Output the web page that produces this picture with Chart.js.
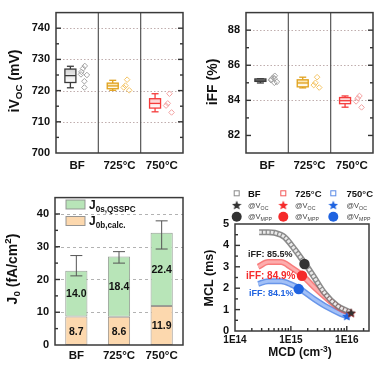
<!DOCTYPE html>
<html><head><meta charset="utf-8">
<script src="https://cdn.jsdelivr.net/npm/chart.js@4.4.0/dist/chart.umd.min.js"></script>
<style>
html,body{margin:0;padding:0;background:#fff;}
#wrap{position:relative;width:392px;height:370px;overflow:hidden;}
canvas{position:absolute;}
</style></head><body>
<div id="wrap">
<canvas id="c1" width="196" height="185" style="left:0;top:0"></canvas>
<canvas id="c2" width="196" height="185" style="left:196px;top:0"></canvas>
<canvas id="c3" width="196" height="185" style="left:0;top:185px"></canvas>
<canvas id="c4" width="196" height="185" style="left:196px;top:185px"></canvas>
</div>
<script>
// ---------------- DATA ----------------
const categories = ['BF', '725°C', '750°C'];

// iVoc (mV)
const ivocPoints = [[727.9, 727.1, 726.0, 725.0, 725.2, 723.0, 721.0], [723.5, 721.6, 721.0, 720.1], [719.0, 715.9, 715.2, 713.0]];
const ivocMin = [720.9, 720.1, 713.2];
const ivocQ1  = [722.6, 720.6, 714.4];
const ivocMed = [724.8, 721.5, 715.9];
const ivocQ3  = [726.9, 722.4, 717.4];
const ivocMax = [727.8, 723.3, 719.0];
const ivocTicks = [700, 710, 720, 730, 740];

// iFF (%)
const iffPoints = [[85.4, 85.3, 85.2, 85.05, 85.15, 85.0, 85.25], [85.32, 85.0, 84.87, 84.73], [84.25, 84.12, 83.94, 83.6]];
const iffMin = [84.99, 84.71, 83.61];
const iffQ1  = [85.08, 84.77, 83.81];
const iffMed = [85.15, 84.99, 83.98];
const iffQ3  = [85.22, 85.17, 84.16];
const iffMax = [85.23, 85.32, 84.25];
const iffTicks = [82, 84, 86, 88];

// J0 (fA/cm2)
const j0Bulk = [8.7, 8.6, 11.9];
const j0Surf = [14.0, 18.4, 22.4];
const j0ErrLow = [21.1, 25.0, 29.3];
const j0ErrHigh = [27.3, 28.5, 37.9];
const j0Ticks = [0, 10, 20, 30, 40];

// MCL (ms) vs MCD (cm-3)
const mcdBF  = [2.7e14, 3.9e14, 5.1e14, 7.7e14, 1.15e15, 1.8e15, 2.5e15, 3.9e15, 6.7e15, 1.15e16];
const mclBF  = [4.62, 4.62, 4.59, 4.39, 3.84, 3.14, 2.59, 1.81, 1.19, 0.88];
const mcd725 = [2.6e14, 3.9e14, 6.7e14, 1.0e15, 1.6e15, 2.6e15, 4.5e15, 7.8e15, 1.15e16];
const mcl725 = [3.0, 3.22, 3.22, 2.98, 2.6, 2.05, 1.5, 1.03, 0.84];
const mcd750 = [2.6e14, 3.9e14, 6.7e14, 1.0e15, 1.45e15, 2.6e15, 4.5e15, 7.8e15, 1.15e16];
const mcl750 = [2.2, 2.33, 2.32, 2.18, 1.97, 1.5, 1.11, 0.8, 0.64];
const vocMCD = [1.2e16, 1.2e16, 1.0e16];
const vocMCL = [0.86, 0.84, 0.7];
const mppMCD = [1.75e15, 1.58e15, 1.38e15];
const mppMCL = [3.13, 2.58, 1.96];
const iffLabels = ['iFF: 85.5%', 'iFF: 84.9%', 'iFF: 84.1%'];
const mcdTicks = [1e14, 1e15, 1e16];
const mclTicks = [0, 1, 2, 3, 4, 5];

// ---------------- STYLE ----------------
const FAM = "'Liberation Sans', Arial, Helvetica, sans-serif";
Chart.defaults.font.family = FAM;
Chart.defaults.color = '#111';
Chart.defaults.animation = false;
Chart.defaults.plugins.legend.display = false;
Chart.defaults.plugins.tooltip.enabled = false;

const boxStroke = ['#3a3a3a', '#e0a11c', '#f53b3b'];
const boxFill = ['#d4d4d4', '#fbe2a4', '#fcc7c7'];
const ptColor = ['#a3a3a3', '#f4c465', '#f3a0a0'];
const BOX_OFF = -0.16, PT_OFF = 0.17;
const JITTER = [0.01, -0.03, -0.07, 0.06, -0.08, 0, 0];
const seriesColor = ['#333333', '#f52a2a', '#1f63e0'];

function rich(ctx, parts, x, y, o) {
  ctx.save();
  ctx.translate(x, y);
  if (o.rot) ctx.rotate(-Math.PI / 2);
  const font = s => `${o.weight || 'bold'} ${s}px ${FAM}`;
  let w = 0;
  const ms = parts.map(p => { ctx.font = font(o.size * (p[1] || 1)); const m = ctx.measureText(p[0]).width; w += m; return m; });
  let cx = o.align === 'left' ? 0 : o.align === 'right' ? -w : -w / 2;
  ctx.fillStyle = o.color || '#111';
  ctx.textBaseline = 'alphabetic'; ctx.textAlign = 'left';
  const base = o.size * 0.36;
  parts.forEach((p, i) => { ctx.font = font(o.size * (p[1] || 1)); ctx.fillText(p[0], cx, base + o.size * (p[2] || 0)); cx += ms[i]; });
  ctx.restore();
}

function hline(ctx, x1, x2, y) { ctx.beginPath(); ctx.moveTo(x1, y); ctx.lineTo(x2, y); ctx.stroke(); }
function vline(ctx, x, y1, y2) { ctx.beginPath(); ctx.moveTo(x, y1); ctx.lineTo(x, y2); ctx.stroke(); }

function framePlugin(o) {
  return {
    id: 'frame',
    beforeDatasetsDraw(chart) {
      const { ctx, chartArea: a, scales: { x, y } } = chart;
      ctx.save();
      if (o.grid) {
        ctx.strokeStyle = o.gridColor; ctx.lineWidth = 1; ctx.setLineDash(o.gridDash);
        o.grid.forEach(v => hline(ctx, a.left, a.right, Math.round(y.getPixelForValue(v)) + 0.5));
        ctx.setLineDash([]);
      }
      if (o.dividers) {
        ctx.strokeStyle = '#555'; ctx.lineWidth = 1.2;
        o.dividers.forEach(v => vline(ctx, x.getPixelForValue(v), a.top, a.bottom));
      }
      if (o.before) o.before(chart);
      ctx.restore();
    },
    afterDatasetsDraw(chart) {
      const { ctx, chartArea: a, scales: { x, y } } = chart;
      ctx.save();
      if (o.after) o.after(chart);
      ctx.strokeStyle = '#333'; ctx.lineWidth = 1.4;
      const tk = (arr, len) => arr.forEach(v => {
        const py = y.getPixelForValue(v);
        if (py < a.top + 1 || py > a.bottom - 1) return;
        hline(ctx, a.left, a.left + len, py);
        if (o.rightTicks) hline(ctx, a.right - len, a.right, py);
      });
      tk(o.yMajor, 5); tk(o.yMinor, 3);
      if (o.xMajor) {
        o.xMajor.forEach(v => { const px = x.getPixelForValue(v); if (px > a.left + 1 && px < a.right - 1) vline(ctx, px, a.bottom, a.bottom - 5); });
        o.xMinor.forEach(v => { const px = x.getPixelForValue(v); if (px > a.left + 1 && px < a.right - 1) vline(ctx, px, a.bottom, a.bottom - 3); });
      }
      ctx.strokeStyle = '#3a3a3a'; ctx.lineWidth = 1.5;
      ctx.strokeRect(a.left, a.top, a.right - a.left, a.bottom - a.top);
      if (o.titles) o.titles(ctx, chart);
      ctx.restore();
    }
  };
}

function midTicks(t) { const r = []; for (let i = 0; i < t.length; i++) { r.push(t[i] + (t[1] - t[0]) / 2); } return r; }

function drawBoxes(chart, mn, q1, md, q3, mx) {
  const { ctx, scales: { x, y } } = chart;
  mn.forEach((_, i) => {
    const cx = x.getPixelForValue(i + BOX_OFF);
    const hw = 5.5, cw = 3.5;
    const pMin = y.getPixelForValue(mn[i]), pQ1 = y.getPixelForValue(q1[i]);
    const pMed = y.getPixelForValue(md[i]), pQ3 = y.getPixelForValue(q3[i]), pMax = y.getPixelForValue(mx[i]);
    ctx.strokeStyle = boxStroke[i]; ctx.lineWidth = 1.3;
    vline(ctx, cx, pMax, pQ3); vline(ctx, cx, pQ1, pMin);
    hline(ctx, cx - cw, cx + cw, pMax); hline(ctx, cx - cw, cx + cw, pMin);
    const g = ctx.createLinearGradient(0, pQ3, 0, pQ1);
    g.addColorStop(0, boxFill[i]); g.addColorStop(1, '#ffffff');
    ctx.fillStyle = g;
    ctx.fillRect(cx - hw, pQ3, 2 * hw, pQ1 - pQ3);
    ctx.strokeRect(cx - hw, pQ3, 2 * hw, pQ1 - pQ3);
    hline(ctx, cx - hw, cx + hw, pMed);
  });
}

function boxChart(id, pts, stats, yr, ticks, area, title) {
  const datasets = pts.map((g, i) => ({
    data: g.map((v, j) => ({ x: i + PT_OFF + JITTER[j % JITTER.length], y: v })),
    pointStyle: 'rectRot', pointRadius: 2.8, borderWidth: 1,
    borderColor: ptColor[i], backgroundColor: 'rgba(255,255,255,0)'
  }));
  return new Chart(document.getElementById(id), {
    type: 'scatter',
    data: { datasets },
    options: {
      responsive: false,
      layout: { padding: { left: 0, top: area.t, right: 196 - area.r, bottom: 0 } },
      scales: {
        x: {
          type: 'linear', min: -0.5, max: 2.5,
          afterBuildTicks: s => { s.ticks = categories.map((c, i) => ({ value: i })); },
          ticks: { callback: v => categories[v], font: { size: 11.5, weight: 'bold' }, color: '#111', padding: 6, autoSkip: false, maxRotation: 0 },
          grid: { display: false, drawTicks: false }, border: { display: false },
          afterFit: s => { s.height = 185 - area.b; }
        },
        y: {
          min: yr[0], max: yr[1],
          afterBuildTicks: s => { s.ticks = ticks.map(v => ({ value: v })); },
          ticks: { font: { size: 11, weight: 'bold' }, color: '#111', padding: 6 },
          grid: { display: false, drawTicks: false }, border: { display: false },
          afterFit: s => { s.width = area.l; }
        }
      }
    },
    plugins: [framePlugin({
      grid: ticks.slice(1), gridColor: 'rgba(185,165,165,0.9)', gridDash: [1.5, 2],
      dividers: [0.5, 1.5], rightTicks: true,
      yMajor: ticks, yMinor: midTicks(ticks),
      before: ch => drawBoxes(ch, ...stats),
      titles: title
    })]
  });
}

boxChart('c1', ivocPoints, [ivocMin, ivocQ1, ivocMed, ivocQ3, ivocMax], [700, 745], ivocTicks,
  { l: 56, t: 9, r: 183, b: 153 },
  ctx => rich(ctx, [['iV'], ['OC', 0.7, 0.22], [' (mV)']], 13.5, 81, { size: 14, rot: true }));

boxChart('c2', iffPoints, [iffMin, iffQ1, iffMed, iffQ3, iffMax], [81, 89], iffTicks,
  { l: 50, t: 9, r: 177, b: 153 },
  ctx => rich(ctx, [['iFF (%)']], 16, 82, { size: 14, rot: true }));

// ---------------- J0 stacked bars ----------------
new Chart(document.getElementById('c3'), {
  type: 'bar',
  data: {
    labels: categories,
    datasets: [
      { label: 'J0b,calc.', data: j0Bulk, backgroundColor: '#fcd8ae', borderColor: 'rgba(150,140,130,0.9)', borderWidth: 1, borderSkipped: false },
      { label: 'J0s,QSSPC', data: j0Surf, backgroundColor: '#b8e5b8', borderColor: 'rgba(140,150,140,0.9)', borderWidth: 1, borderSkipped: false }
    ]
  },
  options: {
    responsive: false,
    datasets: { bar: { categoryPercentage: 1, barPercentage: 0.52 } },
    layout: { padding: { left: 0, top: 8, right: 13, bottom: 0 } },
    scales: {
      x: {
        stacked: true,
        ticks: { font: { size: 11.5, weight: 'bold' }, color: '#111', padding: 4, maxRotation: 0 },
        grid: { display: false, drawTicks: false }, border: { display: false },
        afterFit: s => { s.height = 185 - 160; }
      },
      y: {
        stacked: true, min: 0, max: 45,
        afterBuildTicks: s => { s.ticks = j0Ticks.map(v => ({ value: v })); },
        ticks: { font: { size: 11, weight: 'bold' }, color: '#111', padding: 6 },
        grid: { display: false, drawTicks: false }, border: { display: false },
        afterFit: s => { s.width = 55; }
      }
    }
  },
  plugins: [framePlugin({
    grid: j0Ticks.slice(1), gridColor: 'rgba(170,170,170,0.9)', gridDash: [3, 3],
    yMajor: j0Ticks, yMinor: midTicks(j0Ticks),
    after: ch => {
      const { ctx, scales: { x, y } } = ch;
      ctx.strokeStyle = '#555'; ctx.lineWidth = 1;
      categories.forEach((c, i) => {
        const px = x.getPixelForValue(i);
        const yl = y.getPixelForValue(j0ErrLow[i]), yh = y.getPixelForValue(j0ErrHigh[i]);
        vline(ctx, px, yh, yl); hline(ctx, px - 6, px + 6, yh); hline(ctx, px - 6, px + 6, yl);
      });
      [j0Bulk, j0Surf].forEach((arr, d) => {
        ch.getDatasetMeta(d).data.forEach((el, i) => {
          rich(ctx, [[arr[i].toFixed(1)]], el.x, (el.y + el.base) / 2, { size: 10.5 });
        });
      });
      ctx.lineWidth = 1; ctx.strokeStyle = 'rgba(140,140,140,0.9)';
      ctx.fillStyle = '#b8e5b8'; ctx.fillRect(66, 15, 19, 9); ctx.strokeRect(66, 15, 19, 9);
      ctx.fillStyle = '#fcd8ae'; ctx.fillRect(66, 31.5, 19, 9); ctx.strokeRect(66, 31.5, 19, 9);
      rich(ctx, [['J'], ['0s,QSSPC', 0.68, 0.25]], 89, 19.5, { size: 12, align: 'left' });
      rich(ctx, [['J'], ['0b,calc.', 0.68, 0.25]], 89, 36, { size: 12, align: 'left' });
    },
    titles: ctx => rich(ctx, [['J'], ['0', 0.7, 0.22], [' (fA/cm'], ['2', 0.7, -0.4], [')']], 11.5, 84, { size: 14, rot: true })
  })]
});

// ---------------- MCL vs MCD ----------------
function starCanvas(color, size) {
  const c = document.createElement('canvas'); c.width = c.height = size;
  const g = c.getContext('2d'); g.fillStyle = color; g.beginPath();
  const cx = size / 2, cy = size / 2 + 0.5, R = size / 2, r = R * 0.45;
  for (let i = 0; i < 10; i++) { const a = -Math.PI / 2 + i * Math.PI / 5; const rr = i % 2 ? r : R; g.lineTo(cx + rr * Math.cos(a), cy + rr * Math.sin(a)); }
  g.closePath(); g.fill(); return c;
}
const stars = seriesColor.map(c => starCanvas(c, 10));
const curveDefs = [
  { mcd: mcdBF, mcl: mclBF, band: 'rgba(110,110,110,0.8)', inner: 'rgba(240,240,240,0.95)', dash: [2.6, 1.3] },
  { mcd: mcd725, mcl: mcl725, band: 'rgba(245,80,80,0.75)', inner: 'rgba(253,175,175,0.95)', dash: [] },
  { mcd: mcd750, mcl: mcl750, band: 'rgba(55,115,225,0.75)', inner: 'rgba(165,195,248,0.95)', dash: [] }
];
const mclDatasets = [];
seriesColor.forEach((c, i) => {
  mclDatasets.push({ type: 'scatter', data: [{ x: mppMCD[i], y: mppMCL[i] }], pointStyle: 'circle', pointRadius: 5.2, backgroundColor: c, borderColor: c, borderWidth: 0 });
  mclDatasets.push({ type: 'scatter', data: [{ x: vocMCD[i], y: vocMCL[i] }], pointStyle: stars[i], pointRadius: 5 });
});
curveDefs.forEach(d => {
  const data = d.mcd.map((v, i) => ({ x: v, y: d.mcl[i] }));
  mclDatasets.push({ type: 'line', data, borderColor: d.inner, borderWidth: 3, borderDash: d.dash, pointRadius: 0, cubicInterpolationMode: 'monotone', fill: false });
  mclDatasets.push({ type: 'line', data, borderColor: d.band, borderWidth: 6, pointRadius: 0, cubicInterpolationMode: 'monotone', fill: false });
});

const mcdMinor = [];
mcdTicks.forEach(d => { for (let k = 2; k <= 9; k++) mcdMinor.push(k * d); });

new Chart(document.getElementById('c4'), {
  type: 'scatter',
  data: { datasets: mclDatasets },
  options: {
    responsive: false,
    layout: { padding: { left: 0, top: 39, right: 23, bottom: 0 } },
    scales: {
      x: {
        type: 'logarithmic', min: 1e14, max: 2.5e16,
        afterBuildTicks: s => { s.ticks = mcdTicks.map(v => ({ value: v })); },
        ticks: { callback: v => '1E' + Math.round(Math.log10(v)), font: { size: 10, weight: 'bold' }, color: '#111', padding: 3, autoSkip: false, maxRotation: 0 },
        grid: { display: false, drawTicks: false }, border: { display: false },
        afterFit: s => { s.height = 185 - 146; }
      },
      y: {
        min: 0, max: 5,
        afterBuildTicks: s => { s.ticks = mclTicks.map(v => ({ value: v })); },
        ticks: { font: { size: 11, weight: 'bold' }, color: '#111', padding: 6 },
        grid: { display: false, drawTicks: false }, border: { display: false },
        afterFit: s => { s.width = 39; }
      }
    }
  },
  plugins: [framePlugin({
    yMajor: mclTicks, yMinor: midTicks(mclTicks),
    xMajor: mcdTicks, xMinor: mcdMinor,
    titles: (ctx, ch) => {
      rich(ctx, [['MCL (ms)']], 12.5, 93, { size: 12.5, rot: true });
      rich(ctx, [['MCD (cm'], ['-3', 0.7, -0.4], [')']], 104, 167, { size: 12 });
      rich(ctx, [[iffLabels[0]]], 52, 69, { size: 9, align: 'left', color: '#222' });
      rich(ctx, [[iffLabels[1]]], 50, 90, { size: 10, align: 'left', color: seriesColor[1] });
      rich(ctx, [[iffLabels[2]]], 53, 108, { size: 9, align: 'left', color: seriesColor[2] });
      const colX = [40.7, 87.3, 137.3], txtX = [52, 99, 150.5], rowY = [8.3, 20, 31.7];
      const sqCol = ['#8a8a8a', '#f25a5a', '#5a8ae6'];
      categories.forEach((c, i) => {
        ctx.strokeStyle = sqCol[i]; ctx.lineWidth = 1; ctx.strokeRect(colX[i] - 2.5, rowY[0] - 2.5, 5, 5);
        rich(ctx, [[c]], txtX[i], rowY[0], { size: 9.5, align: 'left' });
        ctx.drawImage(stars[i], colX[i] - 5, rowY[1] - 5);
        rich(ctx, [['@V'], ['OC', 0.7, 0.25]], txtX[i], rowY[1], { size: 7.5, align: 'left', weight: 'normal', color: '#444' });
        ctx.fillStyle = seriesColor[i]; ctx.beginPath(); ctx.arc(colX[i], rowY[2], 5, 0, Math.PI * 2); ctx.fill();
        rich(ctx, [['@V'], ['MPP', 0.7, 0.25]], txtX[i], rowY[2], { size: 7.5, align: 'left', weight: 'normal', color: '#444' });
      });
    }
  })]
});
</script>
</body></html>
